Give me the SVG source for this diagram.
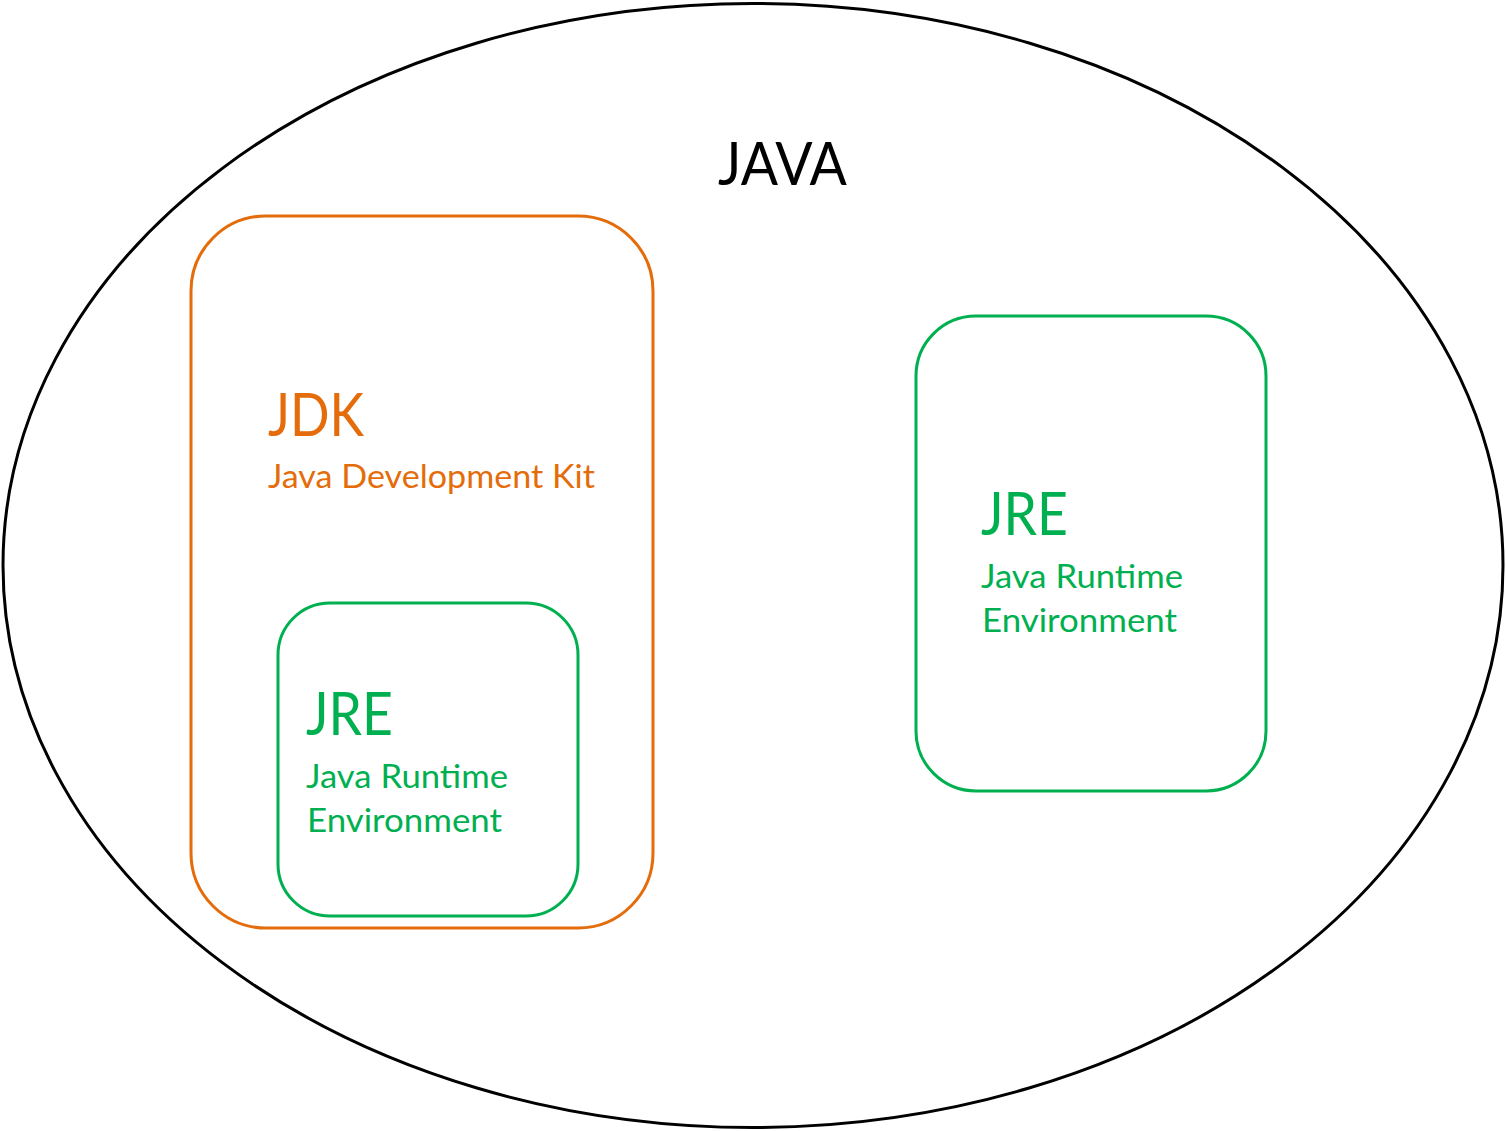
<svg xmlns="http://www.w3.org/2000/svg" width="1506" height="1131" viewBox="0 0 1506 1131">
<style>
text{font-family:Lato,"Open Sans","Liberation Sans",sans-serif;}
.big{font-size:60px;}
.small{font-size:33px;}
.orange{fill:#E46C0A;}
.green{fill:#00B050;}
.box{fill:none;stroke-width:3;}
</style>
<rect width="1506" height="1131" fill="#fff"/>
<g id="java">
<ellipse cx="753" cy="565.5" rx="750" ry="562" fill="none" stroke="#000" stroke-width="3"/>
<text x="718" y="185" class="big" fill="#000" textLength="129" lengthAdjust="spacingAndGlyphs">JAVA</text>
</g>
<g id="jdk">
<rect x="191" y="216" width="462" height="712" rx="75" ry="75" class="box" stroke="#E46C0A"/>
<text x="268" y="436" class="big orange" textLength="96" lengthAdjust="spacingAndGlyphs">JDK</text>
<text x="268" y="488" class="small orange" textLength="327" lengthAdjust="spacingAndGlyphs">Java Development Kit</text>
</g>
<g id="jre-inner">
<rect x="278" y="603" width="300" height="313" rx="52" ry="52" class="box" stroke="#00B050"/>
<text x="306" y="735" class="big green" textLength="87" lengthAdjust="spacingAndGlyphs">JRE</text>
<text x="306" y="788" class="small green" textLength="202" lengthAdjust="spacingAndGlyphs">Java Runtime</text>
<text x="307" y="832" class="small green" textLength="195" lengthAdjust="spacingAndGlyphs">Environment</text>
</g>
<g id="jre-right">
<rect x="916" y="316" width="350" height="475" rx="60" ry="60" class="box" stroke="#00B050"/>
<text x="981" y="535" class="big green" textLength="87" lengthAdjust="spacingAndGlyphs">JRE</text>
<text x="981" y="588" class="small green" textLength="202" lengthAdjust="spacingAndGlyphs">Java Runtime</text>
<text x="982" y="632" class="small green" textLength="195" lengthAdjust="spacingAndGlyphs">Environment</text>
</g>
<g id="connectors"></g>
</svg>
